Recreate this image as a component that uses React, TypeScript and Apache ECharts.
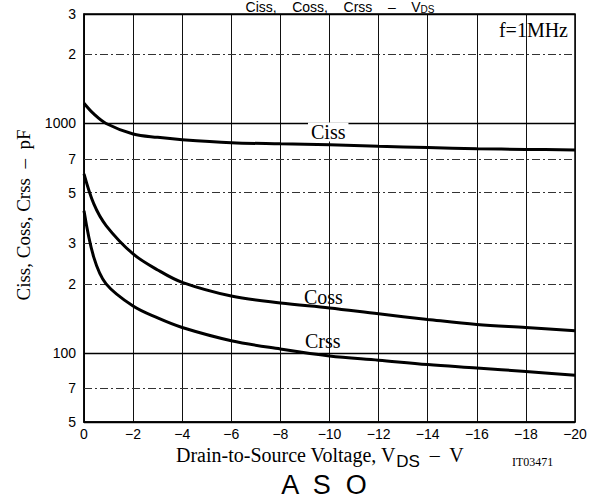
import React, { useEffect, useRef } from "react";
import * as echarts from "echarts";

const vds = [0, -0.4, -0.9, -2, -3, -4, -6, -8, -10, -12, -14, -16, -18, -20];
const ciss = [1225, 1100, 1000, 900, 870, 850, 825, 815, 807, 795, 785, 776, 771, 767];
const coss = [603, 446, 359, 270, 230, 203, 177, 165, 157, 148, 140, 133, 129, 125];
const crss = [417, 261, 200, 160, 142, 129, 113, 104, 97, 93, 89, 86, 83, 80];

const yGridValues = [3000, 2000, 1000, 700, 500, 300, 200, 100, 70, 50];
const yGridLabels = ["3", "2", "1000", "7", "5", "3", "2", "100", "7", "5"];
const yMajor = [1000, 100];

const SERIF = "'Liberation Serif', 'DejaVu Serif', serif";
const SANS = "'Liberation Sans', Arial, sans-serif";

export default function App() {
  const ref = useRef<HTMLDivElement>(null);
  useEffect(() => {
    if (!ref.current) return;
    const chart = echarts.init(ref.current, null, { renderer: "svg" });
    const pairs = (ys: number[]) => vds.map((v, i) => [v, ys[i]]);
    const markData = yGridValues.map((v, i) => {
      const major = yMajor.indexOf(v) >= 0 || v === 3000 || v === 50;
      return [
        {
          coord: [0, v],
          label: { formatter: yGridLabels[i] },
          lineStyle: major
            ? { type: "solid", color: "#000", width: 1.3 }
            : { type: [8, 3, 2, 3], color: "#333", width: 1 },
        },
        { coord: [-20, v] },
      ];
    });
    const lineSeries = (name: string, ys: number[], extra: any = {}) => ({
      name,
      type: "line",
      data: pairs(ys),
      smooth: 0.35,
      symbol: "none",
      lineStyle: { color: "#000", width: 3 },
      z: 4,
      ...extra,
    });
    chart.setOption({
      animation: false,
      backgroundColor: "#fff",
      grid: {
        left: 84,
        right: 15,
        top: 14,
        bottom: 80,
        show: true,
        borderColor: "#000",
        borderWidth: 1.5,
      },
      xAxis: {
        type: "value",
        min: -20,
        max: 0,
        interval: 2,
        inverse: true,
        axisLine: { show: true, lineStyle: { color: "#000", width: 1.5 } },
        axisTick: { show: false },
        axisLabel: {
          color: "#000",
          fontSize: 14,
          fontFamily: SANS,
          margin: 5,
          formatter: (v: number) => (v === 0 ? "0" : "\u2212" + Math.abs(v)),
        },
        splitLine: { show: true, lineStyle: { color: "#111", width: 1 } },
      },
      yAxis: {
        type: "log",
        logBase: 10,
        min: 50,
        max: 3000,
        axisLine: { show: true, lineStyle: { color: "#000", width: 1.5 } },
        axisTick: { show: false },
        axisLabel: { show: false },
        splitLine: { show: false },
      },
      series: [
        lineSeries("Ciss", ciss, {
          markLine: {
            silent: true,
            symbol: ["none", "none"],
            z: 3,
            label: {
              show: true,
              position: "start",
              distance: 8,
              color: "#000",
              fontSize: 14,
              fontFamily: SANS,
            },
            data: markData,
          },
        }),
        lineSeries("Coss", coss),
        lineSeries("Crss", crss),
      ],
      graphic: [
        {
          type: "text",
          x: 340,
          y: 7,
          z: 100,
          style: {
            text: "{m|Ciss,    Coss,    Crss    \u2013    V}{s|DS}",
            verticalAlign: "middle",
            align: "center",
            fill: "#000",
            rich: {
              m: { fontSize: 14, fontFamily: SANS, fill: "#000", lineHeight: 14 },
              s: { fontSize: 10, fontFamily: SANS, fill: "#000", lineHeight: 10, padding: [4, 0, 0, 0] },
            },
          },
        },
        {
          type: "text",
          x: 176,
          y: 455,
          z: 100,
          style: {
            text: "{m|Drain-to-Source Voltage, V}{s|DS}{m|  \u2013  V}",
            verticalAlign: "middle",
            align: "left",
            fill: "#000",
            rich: {
              m: { fontSize: 20, fontFamily: SERIF, fill: "#000" },
              s: { fontSize: 17, fontFamily: SANS, fill: "#000", padding: [13, 0, 0, 0] },
            },
          },
        },
        {
          type: "text",
          x: 512,
          y: 462,
          z: 100,
          style: { text: "IT03471", fontSize: 12, fontFamily: SERIF, fill: "#000", verticalAlign: "middle" },
        },
        {
          type: "text",
          x: 324,
          y: 485,
          z: 100,
          style: { text: "A  S  O", fontSize: 27, fontFamily: SANS, fill: "#000", align: "center", verticalAlign: "middle" },
        },
        {
          type: "text",
          x: 23,
          y: 215,
          rotation: Math.PI / 2,
          z: 100,
          style: {
            text: "Ciss, Coss, Crss  \u2013  pF",
            fontSize: 19,
            fontFamily: SERIF,
            fill: "#000",
            align: "center",
            verticalAlign: "middle",
          },
        },
        {
          type: "text",
          x: 568,
          y: 30,
          z: 100,
          style: { text: "f=1MHz", fontSize: 20, fontFamily: SERIF, fill: "#000", align: "right", verticalAlign: "middle" },
        },
        {
          type: "text",
          x: 308,
          y: 132,
          z: 100,
          style: {
            text: "Ciss",
            fontSize: 20,
            fontFamily: SERIF,
            fill: "#000",
            verticalAlign: "middle",
            backgroundColor: "#fff",
            padding: [1, 3, 0, 3],
            lineHeight: 18,
          },
        },
        {
          type: "text",
          x: 304,
          y: 297,
          z: 100,
          style: { text: "Coss", fontSize: 20, fontFamily: SERIF, fill: "#000", verticalAlign: "middle" },
        },
        {
          type: "text",
          x: 305,
          y: 341,
          z: 100,
          style: { text: "Crss", fontSize: 20, fontFamily: SERIF, fill: "#000", verticalAlign: "middle" },
        },
      ],
    });
    return () => chart.dispose();
  }, []);
  return (
    <div
      ref={ref}
      style={{ position: "fixed", left: 0, top: 0, width: 590, height: 502, background: "#fff" }}
    />
  );
}
